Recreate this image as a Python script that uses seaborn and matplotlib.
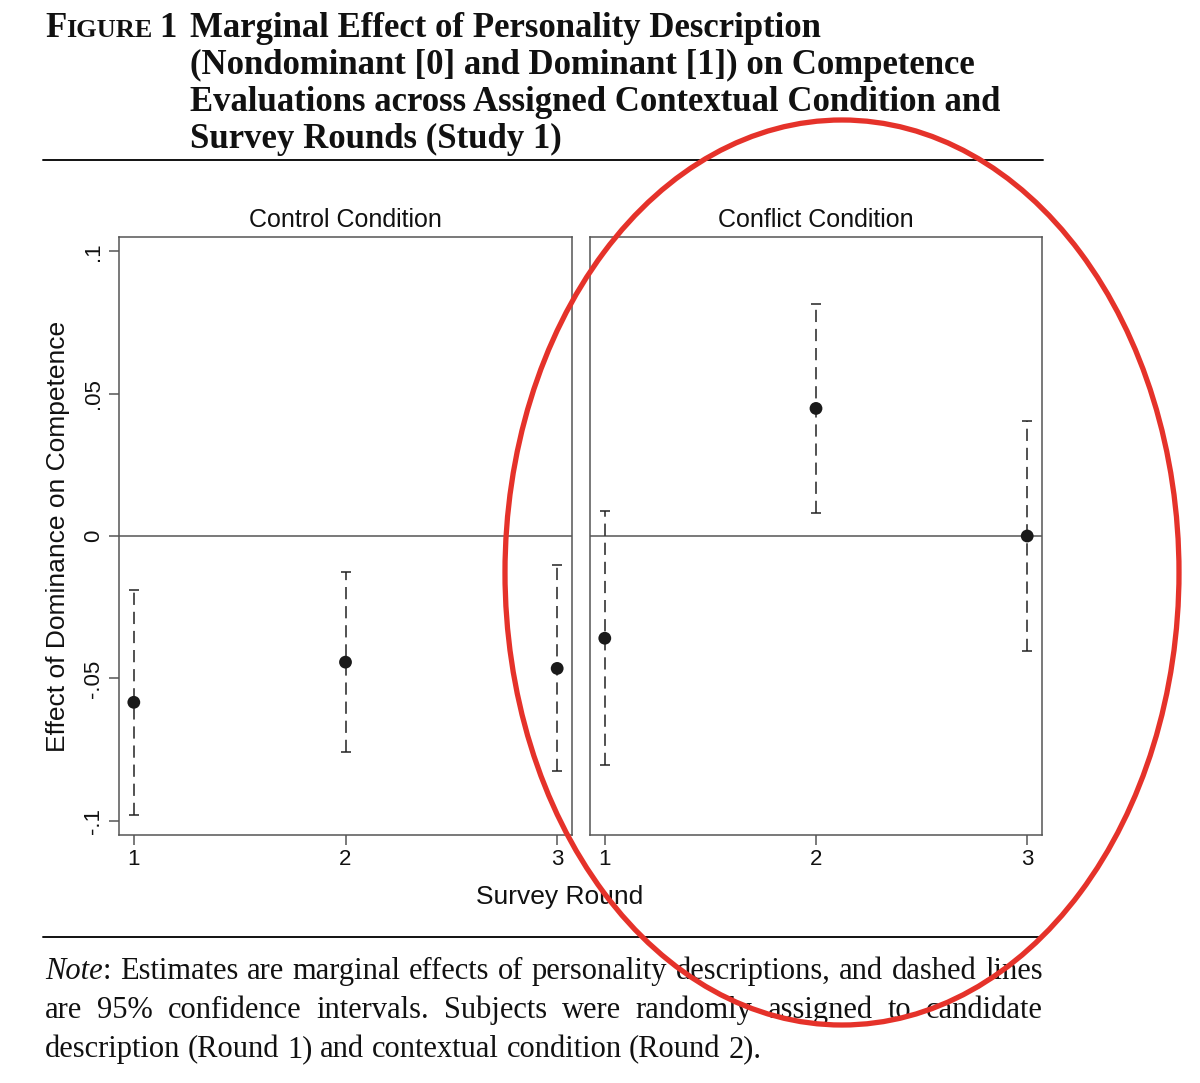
import numpy as np
import pandas as pd
import matplotlib.pyplot as plt
import seaborn as sns
from matplotlib.patches import Ellipse
from matplotlib.lines import Line2D

# values
rounds = [1, 2, 3]
conditions = ['Control Condition', 'Conflict Condition']
control_est = [-0.0584, -0.0443, -0.0465]
control_lo = [-0.0980, -0.0760, -0.0827]
control_hi = [-0.0188, -0.0125, -0.0102]
conflict_est = [-0.0359, 0.0448, 0.0000]
conflict_lo = [-0.0804, 0.0080, -0.0404]
conflict_hi = [0.0089, 0.0816, 0.0404]
y_ticks = [-0.1, -0.05, 0, 0.05, 0.1]
y_tick_labels = ['-.1', '-.05', '0', '.05', '.1']

title_lines = ['Marginal Effect of Personality Description',
               '(Nondominant [0] and Dominant [1]) on Competence',
               'Evaluations across Assigned Contextual Condition and',
               'Survey Rounds (Study 1)']
note_lines = ['Note: Estimates are marginal effects of personality descriptions, and dashed lines',
              'are 95% confidence intervals. Subjects were randomly assigned to candidate',
              'description (Round 1) and contextual condition (Round 2).']

df = pd.DataFrame({
    'condition': [conditions[0]] * 3 + [conditions[1]] * 3,
    'round': rounds + rounds,
    'est': control_est + conflict_est,
    'lo': control_lo + conflict_lo,
    'hi': control_hi + conflict_hi,
})

sns.set_theme(style='white')
plt.rcParams['font.family'] = ['Liberation Sans', 'DejaVu Sans']

W, H = 1200, 1083
fig = plt.figure(figsize=(W / 100, H / 100), dpi=100)
fig.patch.set_facecolor('white')
renderer = fig.canvas.get_renderer()

def fx(px):
    return px / W

def fy(py):
    return 1 - py / H

frame = '#555555'
axes = [fig.add_axes([fx(119), fy(835), fx(453), 598 / H]),
        fig.add_axes([fx(590), fy(835), fx(452), 598 / H])]

for i, (ax, cond) in enumerate(zip(axes, conditions)):
    d = df[df['condition'] == cond]
    ax.axhline(0, color=frame, lw=1.1, zorder=1)
    eb = ax.errorbar(d['round'], d['est'], yerr=[d['est'] - d['lo'], d['hi'] - d['est']],
                     fmt='none', ecolor='#222222', elinewidth=1.1, capsize=3.6,
                     capthick=1.1, zorder=2)
    eb[2][0].set_linestyle((0, (8, 4.5)))
    sns.scatterplot(data=d, x='round', y='est', ax=ax, s=85, color='#1a1a1a',
                    edgecolor='none', zorder=3, legend=False)
    ax.set_xlim(0.93, 3.07)
    ax.set_ylim(-0.105, 0.105)
    ax.set_xticks(rounds)
    ax.set_yticks(y_ticks, y_tick_labels)
    ax.set_xlabel('')
    ax.set_ylabel('')
    for s in ax.spines.values():
        s.set_color(frame)
        s.set_linewidth(1.1)
    ax.tick_params(axis='both', direction='out', length=7, width=1.1, color=frame,
                   labelsize=16, labelcolor='#111111', bottom=True, left=True)
    ax.tick_params(axis='x', pad=3)
    ax.tick_params(axis='y', pad=4)
    ax.set_title(cond, fontsize=18, pad=7, color='#111111')
    if i == 0:
        for lbl in ax.get_yticklabels():
            lbl.set_rotation(90)
            lbl.set_va('center')
        ax.set_ylabel('Effect of Dominance on Competence', fontsize=19, color='#111111')
        ax.yaxis.set_label_coords((70 - 119) / 453, 0.5)
    else:
        ax.tick_params(axis='y', left=False, labelleft=False)

fig.text(fx(560), fy(897), 'Survey Round', ha='center', va='center', fontsize=19, color='#111111')

# header
serif = ['Liberation Serif', 'DejaVu Serif']
x = 45
for s, size in [('F', 25), ('IGURE', 19), ('\u00a0', 19), ('1', 25)]:
    t = fig.text(fx(x), fy(37), s, fontsize=size, fontweight='bold', family=serif,
                 va='baseline', color='#111111')
    x += t.get_window_extent(renderer).width
for k, line in enumerate(title_lines):
    fig.text(fx(190), fy(37 + 37 * k), line, fontsize=25, fontweight='bold',
             family=serif, va='baseline', color='#111111')

fig.add_artist(Line2D([fx(43), fx(1043)], [fy(160)] * 2, color='#111111', lw=1.4,
                      transform=fig.transFigure))
fig.add_artist(Line2D([fx(43), fx(1043)], [fy(937)] * 2, color='#111111', lw=1.4,
                      transform=fig.transFigure))

# note, justified between the rules' ends
note_size = 22

def word_texts(word, y):
    segs = [('Note', 'italic'), (':', 'normal')] if word == 'Note:' else [(word, 'normal')]
    return [fig.text(0, y, s, fontsize=note_size, family=serif, style=style,
                     va='baseline', color='#111111') for s, style in segs]

space = fig.text(0, 0, 'a a', fontsize=note_size, family=serif).get_window_extent(renderer).width \
    - 2 * fig.text(0, 0, 'a', fontsize=note_size, family=serif).get_window_extent(renderer).width
for k, line in enumerate(note_lines):
    y = fy(979 + 39 * k)
    words = [word_texts(w, y) for w in line.split(' ')]
    widths = [[t.get_window_extent(renderer).width for t in w] for w in words]
    total = sum(sum(w) for w in widths)
    if k < len(note_lines) - 1:
        gap = (1043 - 45 - total) / (len(words) - 1)
    else:
        gap = space
    x = 45
    for w, ws in zip(words, widths):
        for t, tw in zip(w, ws):
            t.set_x(fx(x))
            x += tw
        x += gap
for t in fig.texts[:]:
    if t.get_text() in ('a a', 'a'):
        t.remove()

# red hand-drawn style ellipse around the conflict panel
fig.add_artist(Ellipse((fx(842), fy(572.5)), fx(674), 905 / H, transform=fig.transFigure,
                       fill=False, edgecolor='#e5322a', lw=3.8, zorder=10))

fig.savefig('out.png', dpi=100)
